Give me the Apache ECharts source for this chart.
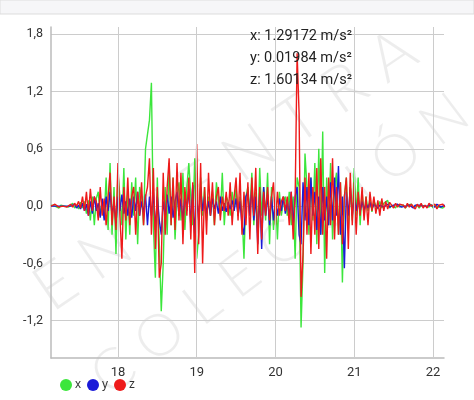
<!DOCTYPE html><html><head><meta charset="utf-8"><script src="https://cdn.jsdelivr.net/npm/echarts@6/dist/echarts.min.js"></script>
<style>html,body{margin:0;padding:0;background:#fff}#c{width:474px;height:400px}</style></head><body><div id="c"></div><script>
const t0 = 17.15, dt = 0.025;
const xTicks = [18,19,20,21,22];
const yTicks = [-1.2,-0.6,0,0.6,1.2,1.8];
const seriesNames = ['x','y','z'];
const xVals = [.01,-.01,.0,.02,-.02,.01,-.01,.0,.02,-.01,
.0,.03,-.02,.01,-.03,.04,-.02,.05,-.08,.06,
-.15,.1,-.2,.08,.15,-.1,.05,-.12,.3,-.25,
.45,-.3,.2,-.5,.35,.1,-.2,.4,-.35,.15,
-.3,.25,-.1,.3,-.4,.2,.1,-.2,.6,.75,
.9,1.29,-.2,-.75,.3,-.4,-1.1,-.6,.2,-.3,
.45,-.2,.3,-.35,.1,.25,-.15,.35,-.25,.2,
.45,.1,-.2,.5,-.55,-.3,.3,-.1,.2,-.15,
.1,-.1,.15,-.2,.25,.05,-.1,.35,-.2,.1,
.05,-.1,.15,-.05,.2,-.1,.1,-.05,-.55,.1,
.2,-.1,.35,-.2,.15,-.3,.4,-.1,.2,-.15,
.35,-.4,.2,-.25,.1,-.35,.15,-.1,.05,.1,
-.1,.15,-.2,.1,-.55,.3,.2,-1.27,-.6,.55,
.2,-.3,.3,-.15,.45,-.4,.6,-.3,.78,-.7,
.3,-.2,.45,-.35,.2,.35,-.3,.25,-.8,.1,
.3,-.25,.2,-.15,.4,-.1,.3,-.2,.15,-.1,
.1,-.05,.08,-.06,.05,.04,-.03,.05,-.02,.03,
.02,.06,-.02,.01,.03,-.02,.02,-.01,.0,.01,
-.02,.01,-.01,.02,-.01,.0,.01,-.02,.01,-.01,
.0,.01,-.01,.02,-.02,.01,.0,-.01,.01,-.02,.0];
const yVals = [.0,.01,.0,-.01,.0,.01,.0,-.01,.0,.01,
.0,-.01,.02,-.02,.01,-.03,.03,-.05,.02,-.1,
.05,-.08,.1,-.05,.03,-.12,.08,-.15,.1,-.05,
.15,-.1,.05,-.18,.1,-.05,.12,-.08,.05,-.1,
.08,-.12,.1,-.05,.15,-.1,.05,-.08,.12,-.2,
.1,-.1,.15,-.25,.1,-.15,-.3,.05,-.1,.12,
-.08,.1,-.12,.05,.15,-.1,.08,-.15,.12,-.05,
.18,-.2,.22,-.3,.1,-.15,.2,-.05,.1,-.08,
.05,-.1,.08,-.03,.05,-.08,.1,-.05,.03,-.06,
.04,-.03,.06,-.05,.08,-.1,.05,-.2,-.3,.1,
.15,-.1,.2,-.15,.1,-.4,.15,-.45,.2,-.1,
.12,-.2,.1,-.15,.05,-.1,.08,-.05,.1,-.08,
.05,-.1,.15,-.2,.1,.2,-.3,-.4,.25,-.15,
.2,-.2,.3,-.1,.15,-.25,.1,-.3,.2,-.15,
.1,-.2,.25,-.15,.3,-.1,.42,-.3,.1,-.65,
.15,-.1,.2,-.1,.1,-.05,.08,-.06,.05,-.04,
.03,-.02,.04,-.03,.02,.03,-.02,.01,.02,-.01,
.01,.02,-.01,.0,.01,-.01,.02,.0,-.01,.01,
.0,-.01,.01,.0,-.02,.01,.0,.01,-.01,.0,
.01,.0,-.01,.01,.0,-.01,.02,.0,-.01,.0,.01];
const zVals = [.0,-.01,.02,.0,-.01,.01,.0,.02,-.01,.0,
.02,-.01,.03,.0,.05,-.02,.1,-.05,.15,-.1,
.18,-.05,.1,.05,-.15,.2,-.1,.08,-.2,.1,
.35,-.2,.1,-.25,.45,-.1,-.55,.2,-.15,.3,
-.2,.1,.2,-.3,.15,-.1,.25,-.2,.1,.2,
.5,-.3,.4,-.45,.2,-.75,-.6,.35,-.3,.2,
.5,-.2,.3,-.25,.45,-.15,.35,-.4,.2,-.1,
.3,-.35,.25,-.7,.65,-.4,.45,-.6,.2,-.3,
.35,-.1,.25,-.2,.1,.2,-.15,.1,-.05,.15,
-.1,.25,-.2,.1,.3,-.15,.35,-.3,.15,-.2,
.25,-.35,.3,-.1,.4,-.5,.2,-.35,.15,-.1,
.2,-.15,.1,.25,-.2,.15,-.1,.05,.1,-.05,
.1,-.2,.15,-.35,.1,1.6,.97,-.95,-.5,.3,
-.3,.35,-.5,.2,-.3,.4,-.45,.5,-.3,.2,
-.55,.3,-.2,.5,-.35,.2,-.3,.25,-.4,.1,
.3,-.45,.35,-.2,.25,-.3,.15,-.1,.2,-.15,
.1,-.2,.15,-.05,.1,-.08,.06,-.1,.08,-.05,
.05,-.03,.04,.02,-.02,.03,-.01,.02,.0,.01,
-.02,.03,-.01,.02,.0,-.03,.02,-.01,.03,-.02,
.01,-.02,.03,.0,-.01,.02,-.03,.01,.0,.02,-.01];
const colors = ['#3ce63c','#1a1ad8','#ee1a1a'];
const info = ['x: 1.29172 m/s²','y: 0.01984 m/s²','z: 1.60134 m/s²'];
const toPairs = a => a.map((v,i)=>[+(t0+i*dt).toFixed(3), v]);
const chart = echarts.init(document.getElementById('c'));
const wm = {fontSize:64,fontFamily:'Lato',fontWeight:300,fill:'rgba(0,0,0,0.07)',textAlign:'center',textVerticalAlign:'middle'};
chart.setOption({
  animation:false,
  grid:{left:51,right:30,top:27,bottom:42},
  xAxis:{type:'value',min:17.15,max:22.14,
    axisLine:{show:true,onZero:false,lineStyle:{color:'#bbb',width:1.5}},axisTick:{show:false,customValues:xTicks},
    splitLine:{show:false},
    axisLabel:{color:'#333',fontSize:13,fontFamily:'Roboto',customValues:xTicks}},
  yAxis:{type:'value',min:-1.59,max:1.875,
    axisLine:{show:true,lineStyle:{color:'#bbb',width:1.5}},axisTick:{show:false,customValues:yTicks},
    splitLine:{show:true,lineStyle:{color:'#ccc'}},
    axisLabel:{color:'#333',fontSize:12.5,fontFamily:'Roboto',customValues:yTicks,
      formatter:v=>v.toFixed(1).replace('.',',')}},
  legend:{left:55,top:374,itemWidth:12,itemHeight:12,itemGap:6,icon:'circle',
    textStyle:{fontSize:12,color:'#333',padding:[0,0,0,-2]}},
  graphic:[
    {type:'rect',shape:{x:0,y:0,width:474,height:14},style:{fill:'#f6f6f8',stroke:'#ddd'},z:-1},
    {type:'text',x:225,y:170,rotation:0.6,style:Object.assign({text:'E N T E N T R A'},wm),z:-1},
    {type:'text',x:280,y:245,rotation:0.65,style:Object.assign({text:'C O L E C C I Ó N'},wm,{fontSize:58}),z:-1},
    ...info.map((s,i)=>({type:'text',left:250,top:29+i*22,style:{text:s,fontSize:14.5,fontFamily:'Roboto',fill:'#222'},z:100}))
  ],
  series:[xVals,yVals,zVals].map((a,i)=>({name:seriesNames[i],type:'line',data:toPairs(a),showSymbol:false,
    lineStyle:{width:1.4,color:colors[i]},itemStyle:{color:colors[i]},
    markLine: i===0 ? {silent:true,symbol:'none',label:{show:false},lineStyle:{color:'#ccc',type:'solid',width:1},
      data:xTicks.map(v=>({xAxis:v}))} : undefined}))
});
</script></body></html>
